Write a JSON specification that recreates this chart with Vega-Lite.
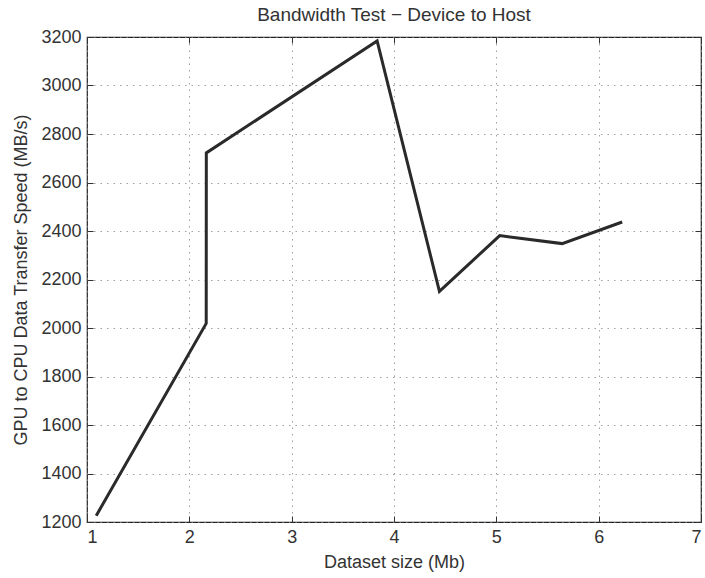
{
  "$schema": "https://vega.github.io/schema/vega-lite/v6.json",
  "width": 614,
  "height": 485,
  "autosize": {"type": "none"},
  "padding": {"left": 87, "top": 37, "right": 4, "bottom": 56},
  "background": "white",
  "title": {"text": "Bandwidth Test − Device to Host", "font": "Liberation Sans", "fontSize": 19, "fontWeight": "normal", "color": "#333", "offset": 3, "anchor": "middle"},
  "config": {
    "view": {"stroke": "#222", "strokeWidth": 1.2},
    "axis": {"labelFont": "Liberation Sans", "titleFont": "Liberation Sans", "labelFontSize": 18, "titleFontSize": 18, "titleFontWeight": "normal", "labelColor": "#333", "titleColor": "#333", "domain": false, "tickColor": "#333", "tickWidth": 1, "tickSize": -6, "gridColor": "#888", "gridDash": [1.5, 5], "gridWidth": 1, "gridOpacity": 0.8}
  },
  "data": {"values": [
    {"size": 1.09, "speed": 1226},
    {"size": 2.165, "speed": 2019},
    {"size": 2.166, "speed": 2722},
    {"size": 3.835, "speed": 3184},
    {"size": 4.444, "speed": 2151},
    {"size": 5.033, "speed": 2381},
    {"size": 5.643, "speed": 2348},
    {"size": 6.23, "speed": 2437}
  ]},
  "layer": [
    {
      "mark": {"type": "line", "color": "#2a2a2a", "strokeWidth": 3, "strokeJoin": "miter"},
      "encoding": {
        "x": {"field": "size", "type": "quantitative", "scale": {"domain": [1, 7], "nice": false}, "axis": {"title": "Dataset size (Mb)", "values": [1, 2, 3, 4, 5, 6, 7], "format": "d", "grid": true, "labelPadding": 12, "titlePadding": 7}},
        "y": {"field": "speed", "type": "quantitative", "scale": {"domain": [1200, 3200], "nice": false, "zero": false}, "axis": {"title": "GPU to CPU Data Transfer Speed (MB/s)", "values": [1200, 1400, 1600, 1800, 2000, 2200, 2400, 2600, 2800, 3000, 3200], "format": "d", "grid": true, "labelPadding": 12, "titlePadding": 10}}
      }
    },
    {
      "mark": {"type": "line", "opacity": 0},
      "encoding": {
        "x": {"field": "size", "type": "quantitative", "scale": {"domain": [1, 7], "nice": false}, "axis": {"orient": "top", "title": null, "labels": false, "grid": false, "values": [1, 2, 3, 4, 5, 6, 7]}},
        "y": {"field": "speed", "type": "quantitative", "scale": {"domain": [1200, 3200], "nice": false, "zero": false}, "axis": {"orient": "right", "title": null, "labels": false, "grid": false, "values": [1200, 1400, 1600, 1800, 2000, 2200, 2400, 2600, 2800, 3000, 3200]}}
      }
    }
  ],
  "resolve": {"axis": {"x": "independent", "y": "independent"}}
}
